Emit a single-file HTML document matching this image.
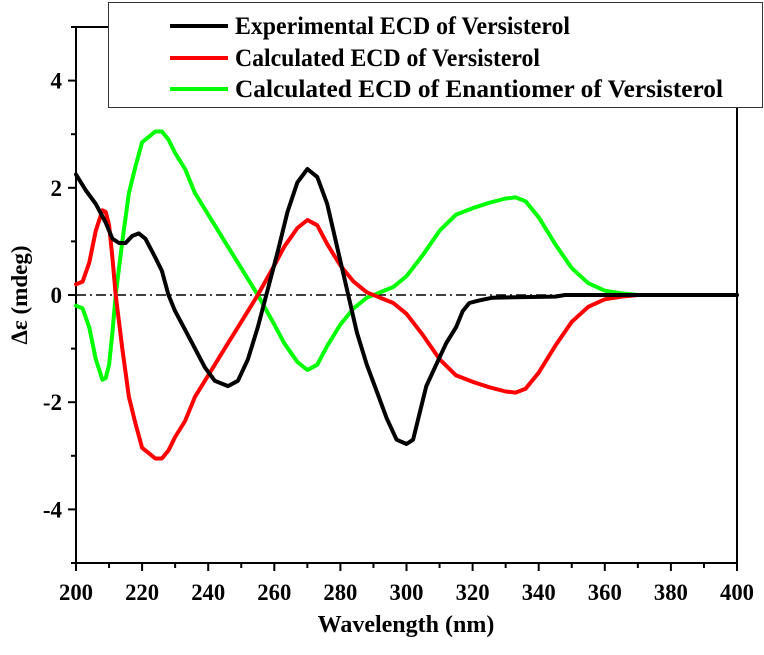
<!DOCTYPE html>
<html><head><meta charset="utf-8"><style>
body{margin:0;background:#fff}
svg text{font-family:"Liberation Serif",serif;font-weight:bold;fill:#000}
</style></head><body>
<svg id="chart" width="764" height="650" xmlns="http://www.w3.org/2000/svg">
<g id="axes"></g>
<g id="series"></g>
<text x="406" y="632" text-anchor="middle" font-size="24">Wavelength (nm)</text>
<text transform="translate(27,295) rotate(-90)" text-anchor="middle" font-size="23">Δε (mdeg)</text>
<g>
<rect x="108.5" y="2.5" width="654" height="105" fill="#fff" stroke="#333" stroke-width="1"/>
<g><line x1="170" y1="26" x2="228" y2="26" stroke="#000" stroke-width="4"/><text x="235" y="34" font-size="25" textLength="335" lengthAdjust="spacingAndGlyphs">Experimental ECD of Versisterol</text></g>
<g><line x1="170" y1="58" x2="228" y2="58" stroke="#ff0000" stroke-width="4"/><text x="235" y="66" font-size="25" textLength="305" lengthAdjust="spacingAndGlyphs">Calculated ECD of Versisterol</text></g>
<g><line x1="170" y1="89" x2="228" y2="89" stroke="#00ff00" stroke-width="4"/><text x="235" y="97" font-size="25" textLength="488" lengthAdjust="spacingAndGlyphs">Calculated ECD of Enantiomer of Versisterol</text></g>
</g>
</svg>
<script>
const xTicks=[200,220,240,260,280,300,320,340,360,380,400];
const yTicks=[-4,-2,0,2,4];
const expX=[200,203,206,209,211,213,215,217,219,221,224,226,228,230,233,236,239,242,246,249,252,255,258,261,264,267,270,273,276,279,282,285,288,291,294,297,300,302,304,306,309,312,315,317,319,322,326,335,345,348,400];
const expY=[2.25,1.95,1.7,1.35,1.05,0.97,0.97,1.1,1.15,1.05,0.7,0.45,0.0,-0.3,-0.65,-1.0,-1.35,-1.6,-1.7,-1.6,-1.2,-0.6,0.1,0.8,1.55,2.1,2.35,2.2,1.7,0.9,0.1,-0.7,-1.3,-1.8,-2.3,-2.7,-2.78,-2.7,-2.2,-1.7,-1.3,-0.9,-0.6,-0.3,-0.15,-0.1,-0.05,-0.04,-0.03,0,0];
const calcX=[200,202,204,206,208,209,210,211,212,214,216,218,220,222,224,226,228,230,233,236,240,245,250,255,260,263,267,270,273,276,280,284,288,292,296,300,305,310,315,320,325,330,333,336,340,345,350,355,360,365,370,400];
const calcY=[0.2,0.25,0.6,1.2,1.58,1.55,1.3,0.7,0.0,-1.0,-1.9,-2.4,-2.85,-2.95,-3.05,-3.05,-2.9,-2.65,-2.35,-1.9,-1.5,-1.0,-0.5,0.0,0.55,0.9,1.25,1.4,1.3,0.95,0.55,0.25,0.05,-0.05,-0.15,-0.35,-0.75,-1.2,-1.5,-1.62,-1.72,-1.8,-1.82,-1.75,-1.45,-0.95,-0.5,-0.22,-0.08,-0.03,0,0];
const enanX=[200,202,204,206,208,209,210,211,212,214,216,218,220,222,224,226,228,230,233,236,240,245,250,255,260,263,267,270,273,276,280,284,288,292,296,300,305,310,315,320,325,330,333,336,340,345,350,355,360,365,370,400];
const enanY=[-0.2,-0.25,-0.6,-1.2,-1.58,-1.55,-1.3,-0.7,0.0,1.0,1.9,2.4,2.85,2.95,3.05,3.05,2.9,2.65,2.35,1.9,1.5,1.0,0.5,0.0,-0.55,-0.9,-1.25,-1.4,-1.3,-0.95,-0.55,-0.25,-0.05,0.05,0.15,0.35,0.75,1.2,1.5,1.62,1.72,1.8,1.82,1.75,1.45,0.95,0.5,0.22,0.08,0.03,0,0];

const L=76,R=737,T=27,B=563;
function sx(w){return L+(w-200)/200*(R-L);}
function sy(v){return B-(v+5)/10*(B-T);}
const NS='http://www.w3.org/2000/svg';
const axes=document.getElementById('axes');
function mk(tag,attrs,parent){const e=document.createElementNS(NS,tag);for(const k in attrs)e.setAttribute(k,attrs[k]);parent.appendChild(e);return e;}
const frame=mk('rect',{x:L,y:T,width:R-L,height:B-T,fill:'none',stroke:'#000','stroke-width':2},axes);


const zl=mk('line',{x1:L,y1:sy(0),x2:R,y2:sy(0),stroke:'#000','stroke-width':1.5,'stroke-dasharray':'10 4 2 4'},axes);


for(let w=200;w<=400;w+=10){
  const major=(w%20===0);
  const t=mk('line',{x1:sx(w),y1:B,x2:sx(w),y2:B+(major?8:5),stroke:'#000','stroke-width':2},axes);
  
  
}
xTicks.forEach(w=>{
  const t=mk('text',{x:sx(w),y:B+37,'text-anchor':'middle','font-size':23,textLength:34,lengthAdjust:'spacingAndGlyphs'},axes);
  t.textContent=w;
  
  
});
for(let v=-5;v<=5;v+=1){
  const major=(v%2===0);
  const t=mk('line',{x1:L-(major?8:5),y1:sy(v),x2:L,y2:sy(v),stroke:'#000','stroke-width':2},axes);
  
  
}
yTicks.forEach(v=>{
  const t=mk('text',{x:L-14,y:sy(v)+8,'text-anchor':'end','font-size':23},axes);
  t.textContent=v;
  
  
});
const series=document.getElementById('series');
function draw(xs,ys,color,name){
  const pts=xs.map((x,i)=>sx(x).toFixed(1)+','+sy(ys[i]).toFixed(1)).join(' ');
  const p=mk('polyline',{points:pts,fill:'none',stroke:color,'stroke-width':4,'stroke-linejoin':'round','stroke-linecap':'round'},series);
  
  
}
draw(enanX,enanY,'#00ff00','enantiomer-ecd-line');
draw(calcX,calcY,'#ff0000','calculated-ecd-line');
draw(expX,expY,'#000000','experimental-ecd-line');
</script>
</body></html>
